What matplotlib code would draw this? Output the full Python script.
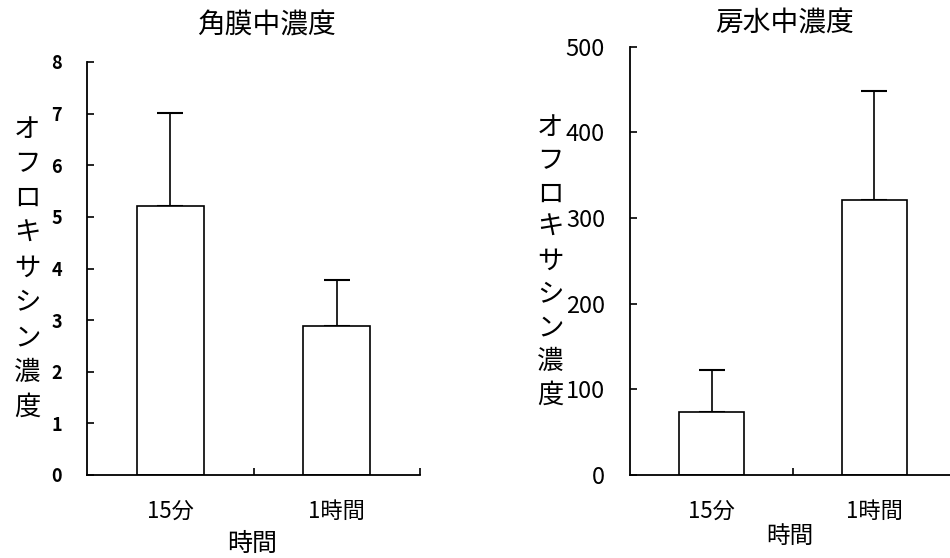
import numpy as np
import matplotlib
matplotlib.use('Agg')
import matplotlib.pyplot as plt

plt.rcParams['font.family'] = ['Noto Sans CJK JP', 'DejaVu Sans']

#======================================= data
categories = ['15分', '1時間']
cornea_mean = [5.22, 2.89]
cornea_err = [1.79, 0.88]
aqueous_mean = [74, 321]
aqueous_err = [49, 127]

ylabel_text = 'オフロキサシン濃度'
xlabel_text = '時間'

W, H = 950, 558
fig = plt.figure(figsize=(W / 100, H / 100), dpi=100)

def px(x0, y0, x1, y1):
	# pixel box (left, top, right, bottom) -> figure fraction rect
	return [x0 / W, 1 - y1 / H, (x1 - x0) / W, (y1 - y0) / H]

def panel(rect, means, errs, ymax, ystep, title, title_xy, tick_fs, tick_w, xt_fs, xl_fs, xl_xy, ylab_x, ylab_y0, ylab_dy, title_fs):
	ax = fig.add_axes(rect)
	x = np.array([0.5, 1.5])
	ax.bar(x, means, width=0.4, color='white', edgecolor='black', linewidth=1.2, zorder=2)
	ax.errorbar(x, means, yerr=[np.zeros(len(errs)), errs], fmt='none',
				ecolor='black', elinewidth=1.2, capsize=9.5, capthick=1.5, zorder=1)
	ax.set_xlim(0, 2)
	ax.set_ylim(0, ymax)
	ax.set_yticks(np.arange(0, ymax + ystep / 2, ystep))
	ax.set_xticks([1, 2])
	ax.set_xticklabels([])
	ax.set_xticks(x, minor=True)
	ax.set_xticklabels(categories, minor=True, fontsize=xt_fs)
	ax.tick_params(axis='x', which='major', direction='in', length=5, width=1.2)
	ax.tick_params(axis='x', which='minor', length=0, pad=18)
	ax.tick_params(axis='y', direction='in', length=5, width=1.2, labelsize=tick_fs, pad=18)
	for lab in ax.get_yticklabels():
		lab.set_fontweight(tick_w)
	for s in ['top', 'right']:
		ax.spines[s].set_visible(False)
	for s in ['left', 'bottom']:
		ax.spines[s].set_linewidth(1.3)
	fig.text(title_xy[0] / W, 1 - title_xy[1] / H, title, fontsize=title_fs, ha='center', va='center')
	fig.text(xl_xy[0] / W, 1 - xl_xy[1] / H, xlabel_text, fontsize=xl_fs, ha='center', va='center')
	for i, ch in enumerate(ylabel_text):
		fig.text(ylab_x / W, 1 - (ylab_y0 + i * ylab_dy) / H, ch, fontsize=19, ha='center', va='center')
	return ax

panel(px(87, 62, 420, 475), cornea_mean, cornea_err, 8, 1, '角膜中濃度', (266, 26),
	  13, 'bold', 16, 18, (252, 544), 27, 129, 34.75, 20)
panel(px(630, 46.7, 956, 475), aqueous_mean, aqueous_err, 500, 100, '房水中濃度', (785, 24),
	  17, 'normal', 16, 17, (790, 536), 550, 127, 33.5, 20)

fig.savefig('out.png', dpi=100)
